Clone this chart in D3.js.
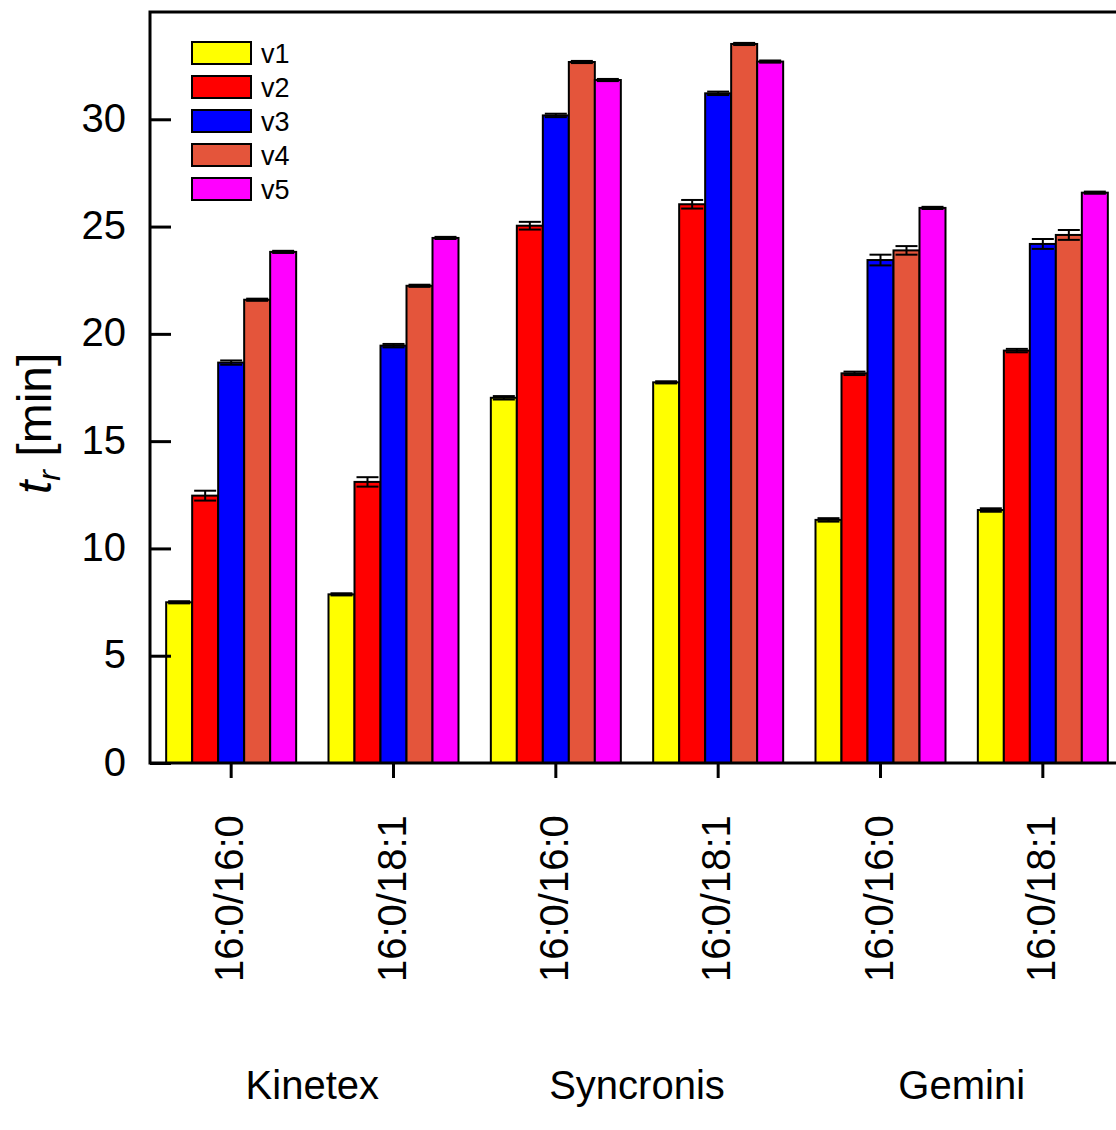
<!DOCTYPE html>
<html>
<head>
<meta charset="utf-8">
<script src="https://cdn.jsdelivr.net/npm/d3@7"></script>
<style>
  html, body { margin: 0; padding: 0; background: #fff; }
  svg { display: block; font-family: "Liberation Sans", Arial, sans-serif; }
</style>
</head>
<body>
<svg id="chart" width="1116" height="1130"></svg>
<script>
// Retention times t_r [min] per column / lipid, five series v1..v5
const categories = ["K-16:0/16:0", "K-16:0/18:1", "S-16:0/16:0", "S-16:0/18:1", "G-16:0/16:0", "G-16:0/18:1"];
const tickLabels = ["16:0/16:0", "16:0/18:1", "16:0/16:0", "16:0/18:1", "16:0/16:0", "16:0/18:1"];
const columns = ["Kinetex", "Syncronis", "Gemini"];
const seriesNames = ["v1", "v2", "v3", "v4", "v5"];
const seriesColors = ["#FFFF00", "#FF0000", "#0000FF", "#E4553B", "#FF00FF"];

const v1 = [7.49, 7.86, 17.02, 17.74, 11.33, 11.79];
const v2 = [12.46, 13.10, 25.04, 26.04, 18.16, 19.22];
const v3 = [18.66, 19.45, 30.18, 31.21, 23.44, 24.19];
const v4 = [21.59, 22.24, 32.67, 33.51, 23.89, 24.61];
const v5 = [23.82, 24.47, 31.83, 32.69, 25.87, 26.58];

const e1 = [0.05, 0.05, 0.08, 0.05, 0.08, 0.08];
const e2 = [0.23, 0.22, 0.18, 0.20, 0.08, 0.08];
const e3 = [0.10, 0.08, 0.08, 0.08, 0.25, 0.23];
const e4 = [0.05, 0.05, 0.05, 0.05, 0.20, 0.23];
const e5 = [0.05, 0.05, 0.05, 0.05, 0.05, 0.05];

const yTicks = [0, 5, 10, 15, 20, 25, 30];

const values = [v1, v2, v3, v4, v5];
const errors = [e1, e2, e3, e4, e5];

const svg = d3.select("#chart");

const plot = { left: 150, right: 1124, top: 12, bottom: 763 };

const x = d3.scaleBand().domain(categories).range([plot.left, plot.right]).padding(0);
const xi = d3.scaleBand().domain(seriesNames).range([-65, 65]).padding(0);
const y = d3.scaleLinear().domain([0, 35]).range([plot.bottom, plot.top]);

// flattened records for bars
const records = [];
categories.forEach((c, ci) => {
  seriesNames.forEach((s, si) => {
    records.push({ cat: c, series: s, si, value: values[si][ci], err: errors[si][ci] });
  });
});

const barG = svg.append("g");
barG.selectAll("rect")
  .data(records)
  .join("rect")
  .attr("x", d => x(d.cat) + x.bandwidth() / 2 + xi(d.series))
  .attr("y", d => y(d.value))
  .attr("width", xi.bandwidth())
  .attr("height", d => y(0) - y(d.value))
  .attr("fill", d => seriesColors[d.si])
  .attr("stroke", "#000")
  .attr("stroke-width", 2);

// error bars
const capW = 11;
const errG = svg.append("g").attr("stroke", "#000").attr("stroke-width", 2).attr("fill", "none");
records.forEach(d => {
  const cx = x(d.cat) + x.bandwidth() / 2 + xi(d.series) + xi.bandwidth() / 2;
  const yHi = y(d.value + d.err), yLo = y(d.value - d.err);
  errG.append("line").attr("x1", cx).attr("x2", cx).attr("y1", yHi).attr("y2", yLo);
  errG.append("line").attr("x1", cx - capW).attr("x2", cx + capW).attr("y1", yHi).attr("y2", yHi);
  errG.append("line").attr("x1", cx - capW).attr("x2", cx + capW).attr("y1", yLo).attr("y2", yLo);
});

// frame
svg.append("rect")
  .attr("x", plot.left).attr("y", plot.top)
  .attr("width", plot.right - plot.left).attr("height", plot.bottom - plot.top)
  .attr("fill", "none").attr("stroke", "#000").attr("stroke-width", 3);

// y axis: inward ticks
const yAxis = d3.axisLeft(y).tickValues(yTicks).tickSize(-21).tickPadding(24).tickFormat(d3.format("d"));
const yG = svg.append("g").attr("transform", `translate(${plot.left},0)`).call(yAxis);
yG.select(".domain").remove();
yG.selectAll(".tick line").attr("stroke", "#000").attr("stroke-width", 3);
yG.selectAll(".tick text").attr("font-size", 40).attr("fill", "#000")
  .attr("font-family", "'Liberation Sans', Arial, sans-serif").attr("dy", "0.3em");

// x axis: outward ticks, rotated labels
const xAxis = d3.axisBottom(x).tickSize(15).tickFormat((d, i) => tickLabels[i]);
const xG = svg.append("g").attr("transform", `translate(0,${plot.bottom})`).call(xAxis);
xG.select(".domain").remove();
xG.selectAll(".tick line").attr("stroke", "#000").attr("stroke-width", 3);
xG.selectAll(".tick text")
  .attr("font-size", 40).attr("fill", "#000")
  .attr("font-family", "'Liberation Sans', Arial, sans-serif")
  .attr("text-anchor", "start")
  .attr("transform", "translate(-2,219) rotate(-90)")
  .attr("x", 0).attr("y", 0).attr("dy", "0.35em");

// column group labels
columns.forEach((name, gi) => {
  const c0 = x(categories[gi * 2]) + x.bandwidth() / 2;
  const c1 = x(categories[gi * 2 + 1]) + x.bandwidth() / 2;
  svg.append("text")
    .attr("x", (c0 + c1) / 2).attr("y", 1099)
    .attr("text-anchor", "middle").attr("font-size", 40).attr("fill", "#000")
    .text(name);
});

// y axis title: t_r [min]
const yTitle = svg.append("text")
  .attr("transform", "translate(51,494) rotate(-90)")
  .attr("text-anchor", "start").attr("font-size", 48).attr("fill", "#000");
yTitle.append("tspan").attr("font-style", "italic").text("t");
yTitle.append("tspan").attr("font-style", "italic").attr("font-size", 32).attr("dy", 9).text("r");
yTitle.append("tspan").attr("dy", -9).text(" [min]");

// legend
const legend = svg.append("g").attr("transform", "translate(192,42)");
seriesNames.forEach((s, i) => {
  const row = legend.append("g").attr("transform", `translate(0,${i * 34})`);
  row.append("rect").attr("width", 59).attr("height", 22)
    .attr("fill", seriesColors[i]).attr("stroke", "#000").attr("stroke-width", 2);
  row.append("text").attr("x", 69).attr("y", 21)
    .attr("font-size", 27).attr("fill", "#000").text(s);
});
</script>
</body>
</html>
